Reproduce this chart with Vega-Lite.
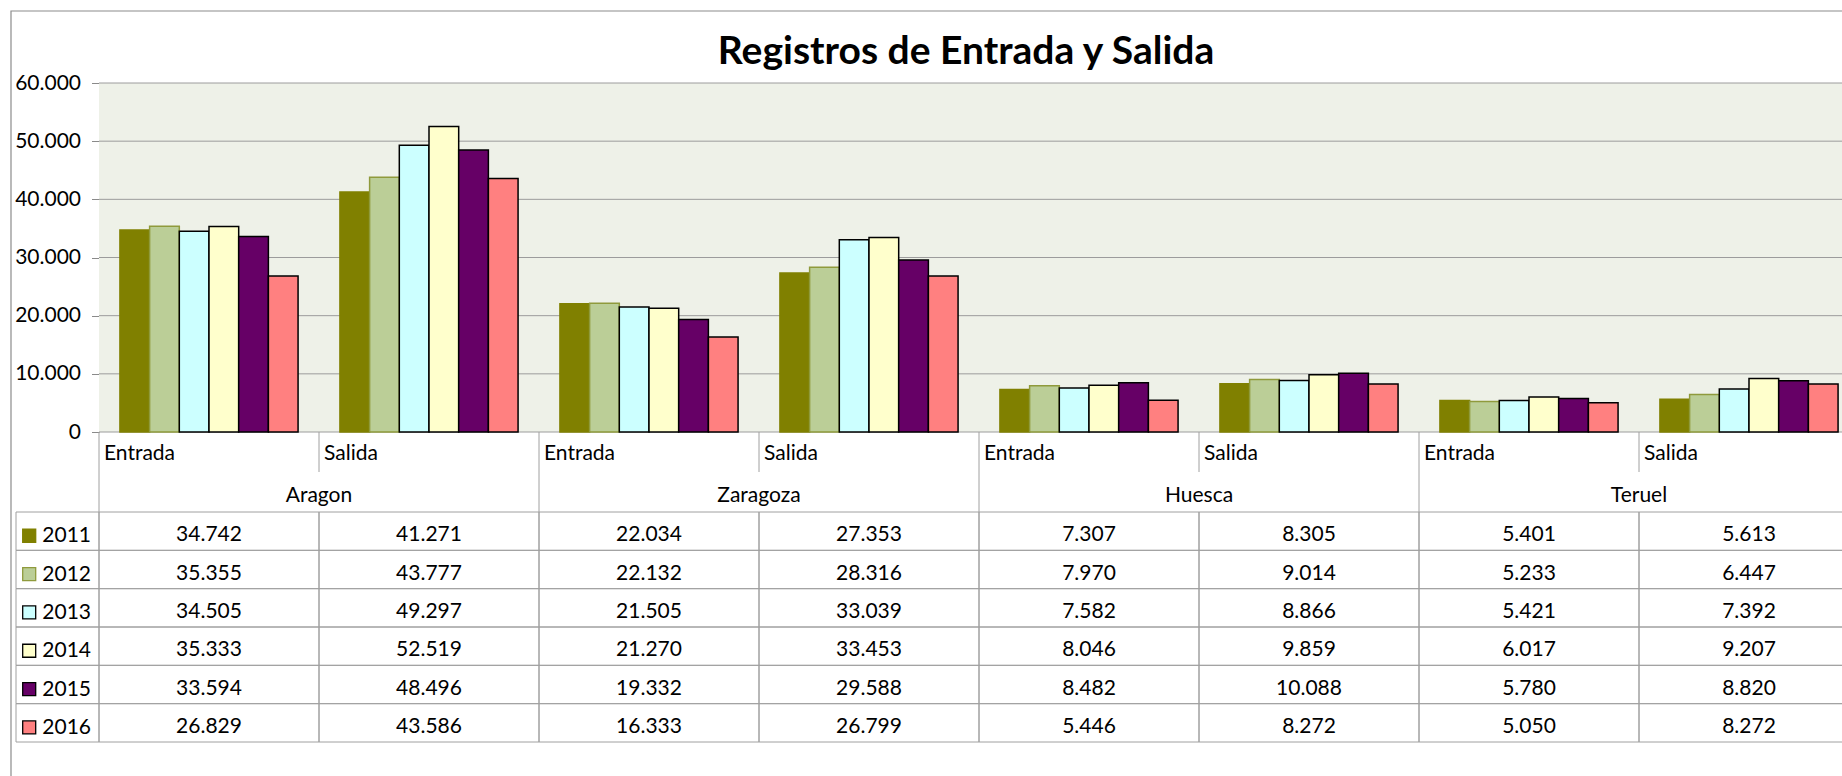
{
  "$schema": "https://vega.github.io/schema/vega-lite/v6.json",
  "width": 1842,
  "height": 776,
  "autosize": {"type": "none"},
  "padding": 0,
  "background": "white",
  "config": {
    "view": {"stroke": null},
    "font": "Lato",
    "text": {"font": "Lato", "color": "#000000"},
    "locale": {"number": {"decimal": ",", "thousands": ".", "grouping": [3], "currency": ["", " €"]}}
  },
  "title": {
    "text": "Registros de Entrada y Salida",
    "font": "Lato",
    "fontSize": 39,
    "fontWeight": "bold",
    "color": "#000000",
    "anchor": "middle",
    "frame": "group",
    "dx": 45,
    "offset": -103,
    "baseline": "alphabetic"
  },
  "datasets": {
    "vals": [
      {"grp": "Aragon", "tipo": "Entrada", "year": "2011", "v": 34742},
      {"grp": "Aragon", "tipo": "Entrada", "year": "2012", "v": 35355},
      {"grp": "Aragon", "tipo": "Entrada", "year": "2013", "v": 34505},
      {"grp": "Aragon", "tipo": "Entrada", "year": "2014", "v": 35333},
      {"grp": "Aragon", "tipo": "Entrada", "year": "2015", "v": 33594},
      {"grp": "Aragon", "tipo": "Entrada", "year": "2016", "v": 26829},
      {"grp": "Aragon", "tipo": "Salida", "year": "2011", "v": 41271},
      {"grp": "Aragon", "tipo": "Salida", "year": "2012", "v": 43777},
      {"grp": "Aragon", "tipo": "Salida", "year": "2013", "v": 49297},
      {"grp": "Aragon", "tipo": "Salida", "year": "2014", "v": 52519},
      {"grp": "Aragon", "tipo": "Salida", "year": "2015", "v": 48496},
      {"grp": "Aragon", "tipo": "Salida", "year": "2016", "v": 43586},
      {"grp": "Zaragoza", "tipo": "Entrada", "year": "2011", "v": 22034},
      {"grp": "Zaragoza", "tipo": "Entrada", "year": "2012", "v": 22132},
      {"grp": "Zaragoza", "tipo": "Entrada", "year": "2013", "v": 21505},
      {"grp": "Zaragoza", "tipo": "Entrada", "year": "2014", "v": 21270},
      {"grp": "Zaragoza", "tipo": "Entrada", "year": "2015", "v": 19332},
      {"grp": "Zaragoza", "tipo": "Entrada", "year": "2016", "v": 16333},
      {"grp": "Zaragoza", "tipo": "Salida", "year": "2011", "v": 27353},
      {"grp": "Zaragoza", "tipo": "Salida", "year": "2012", "v": 28316},
      {"grp": "Zaragoza", "tipo": "Salida", "year": "2013", "v": 33039},
      {"grp": "Zaragoza", "tipo": "Salida", "year": "2014", "v": 33453},
      {"grp": "Zaragoza", "tipo": "Salida", "year": "2015", "v": 29588},
      {"grp": "Zaragoza", "tipo": "Salida", "year": "2016", "v": 26799},
      {"grp": "Huesca", "tipo": "Entrada", "year": "2011", "v": 7307},
      {"grp": "Huesca", "tipo": "Entrada", "year": "2012", "v": 7970},
      {"grp": "Huesca", "tipo": "Entrada", "year": "2013", "v": 7582},
      {"grp": "Huesca", "tipo": "Entrada", "year": "2014", "v": 8046},
      {"grp": "Huesca", "tipo": "Entrada", "year": "2015", "v": 8482},
      {"grp": "Huesca", "tipo": "Entrada", "year": "2016", "v": 5446},
      {"grp": "Huesca", "tipo": "Salida", "year": "2011", "v": 8305},
      {"grp": "Huesca", "tipo": "Salida", "year": "2012", "v": 9014},
      {"grp": "Huesca", "tipo": "Salida", "year": "2013", "v": 8866},
      {"grp": "Huesca", "tipo": "Salida", "year": "2014", "v": 9859},
      {"grp": "Huesca", "tipo": "Salida", "year": "2015", "v": 10088},
      {"grp": "Huesca", "tipo": "Salida", "year": "2016", "v": 8272},
      {"grp": "Teruel", "tipo": "Entrada", "year": "2011", "v": 5401},
      {"grp": "Teruel", "tipo": "Entrada", "year": "2012", "v": 5233},
      {"grp": "Teruel", "tipo": "Entrada", "year": "2013", "v": 5421},
      {"grp": "Teruel", "tipo": "Entrada", "year": "2014", "v": 6017},
      {"grp": "Teruel", "tipo": "Entrada", "year": "2015", "v": 5780},
      {"grp": "Teruel", "tipo": "Entrada", "year": "2016", "v": 5050},
      {"grp": "Teruel", "tipo": "Salida", "year": "2011", "v": 5613},
      {"grp": "Teruel", "tipo": "Salida", "year": "2012", "v": 6447},
      {"grp": "Teruel", "tipo": "Salida", "year": "2013", "v": 7392},
      {"grp": "Teruel", "tipo": "Salida", "year": "2014", "v": 9207},
      {"grp": "Teruel", "tipo": "Salida", "year": "2015", "v": 8820},
      {"grp": "Teruel", "tipo": "Salida", "year": "2016", "v": 8272}
    ],
    "cats": [
      {"grp": "Aragon", "tipo": "Entrada"}, {"grp": "Aragon", "tipo": "Salida"},
      {"grp": "Zaragoza", "tipo": "Entrada"}, {"grp": "Zaragoza", "tipo": "Salida"},
      {"grp": "Huesca", "tipo": "Entrada"}, {"grp": "Huesca", "tipo": "Salida"},
      {"grp": "Teruel", "tipo": "Entrada"}, {"grp": "Teruel", "tipo": "Salida"}
    ],
    "groups": [{"grp": "Aragon"}, {"grp": "Zaragoza"}, {"grp": "Huesca"}, {"grp": "Teruel"}],
    "years": [{"year": "2011"}, {"year": "2012"}, {"year": "2013"}, {"year": "2014"}, {"year": "2015"}, {"year": "2016"}],
    "grid": [{"v": 0}, {"v": 10000}, {"v": 20000}, {"v": 30000}, {"v": 40000}, {"v": 50000}, {"v": 60000}]
  },
  "layer": [
    {
      "data": {"values": [{"area": "chart"}]},
      "mark": {"type": "rect", "filled": false, "stroke": "#8c8c8c", "strokeWidth": 1.2},
      "encoding": {
        "x": {"field": "area", "type": "nominal", "scale": {"range": [11, 1921], "paddingInner": 0, "paddingOuter": 0}, "axis": null},
        "y": {"field": "area", "type": "nominal", "scale": {"range": [11, 800], "paddingInner": 0, "paddingOuter": 0}, "axis": null}
      }
    },
    {
      "layer": [
        {
          "data": {"values": [{"zona": "plot"}]},
          "mark": {"type": "rect", "fill": "#EEF1E8"},
          "encoding": {
            "x": {"datum": "Aragon|Entrada", "type": "nominal", "bandPosition": 0,
                  "scale": {"domain": ["Aragon|Entrada", "Aragon|Salida", "Zaragoza|Entrada", "Zaragoza|Salida", "Huesca|Entrada", "Huesca|Salida", "Teruel|Entrada", "Teruel|Salida"], "range": [99, 1859], "paddingInner": 0, "paddingOuter": 0},
                  "axis": null},
            "x2": {"datum": "Teruel|Salida", "bandPosition": 1},
            "y": {"datum": 60000, "type": "quantitative",
                  "scale": {"domain": [0, 60000], "range": [432, 83], "nice": false, "zero": true},
                  "axis": {"values": [0, 10000, 20000, 30000, 40000, 50000, 60000], "format": ",d", "offset": -99, "grid": false, "tickSize": 7.5, "tickColor": "#8a8a8a", "domainColor": "#8a8a8a", "labelFontSize": 21, "labelFont": "Lato", "labelColor": "#000000", "labelPadding": 11, "title": null}},
            "y2": {"datum": 0}
          }
        },
        {
          "data": {"name": "grid"},
          "mark": {"type": "rule", "stroke": "#9c9c9c", "strokeWidth": 1},
          "encoding": {
            "x": {"datum": "Aragon|Entrada", "type": "nominal", "bandPosition": 0},
            "x2": {"datum": "Teruel|Salida", "bandPosition": 1},
            "y": {"field": "v", "type": "quantitative"}
          }
        },
        {
          "data": {"name": "vals"},
          "transform": [{"calculate": "datum.grp + '|' + datum.tipo", "as": "cat"}],
          "mark": {"type": "bar", "strokeWidth": 1.5},
          "encoding": {
            "x": {"field": "cat", "type": "nominal"},
            "xOffset": {"field": "year", "type": "nominal", "scale": {"paddingInner": 0, "paddingOuter": 0.705}},
            "y": {"field": "v", "type": "quantitative"},
            "fill": {"field": "year", "type": "nominal", "scale": {"domain": ["2011", "2012", "2013", "2014", "2015", "2016"], "range": ["#808000", "#BBCE97", "#CCFFFF", "#FFFFCC", "#660066", "#FF8080"]}, "legend": null},
            "stroke": {"field": "year", "type": "nominal", "scale": {"domain": ["2011", "2012", "2013", "2014", "2015", "2016"], "range": ["#808000", "#8F9A3C", "#000000", "#000000", "#000000", "#000000"]}, "legend": null}
          }
        }
      ]
    },
    {
      "data": {"name": "vals"},
      "transform": [{"calculate": "datum.grp + '|' + datum.tipo", "as": "cat"}],
      "layer": [
        {
          "mark": {"type": "rect", "filled": false, "stroke": "#a0a0a0", "strokeWidth": 1},
          "encoding": {
            "x": {"field": "cat", "type": "nominal",
                  "scale": {"domain": ["Aragon|Entrada", "Aragon|Salida", "Zaragoza|Entrada", "Zaragoza|Salida", "Huesca|Entrada", "Huesca|Salida", "Teruel|Entrada", "Teruel|Salida"], "range": [99, 1859], "paddingInner": 0, "paddingOuter": 0},
                  "axis": null},
            "y": {"field": "year", "type": "nominal", "scale": {"domain": ["2011", "2012", "2013", "2014", "2015", "2016"], "range": [512, 742], "paddingInner": 0, "paddingOuter": 0}, "axis": null}
          }
        },
        {
          "mark": {"type": "text", "fontSize": 21, "baseline": "middle", "align": "center", "dy": 4},
          "encoding": {
            "x": {"field": "cat", "type": "nominal"},
            "y": {"field": "year", "type": "nominal"},
            "text": {"field": "v", "type": "quantitative", "format": ",d"}
          }
        }
      ]
    },
    {
      "data": {"name": "years"},
      "layer": [
        {
          "mark": {"type": "rect", "filled": false, "stroke": "#a0a0a0", "strokeWidth": 1},
          "encoding": {
            "x": {"datum": "leyenda", "type": "nominal", "scale": {"domain": ["leyenda"], "range": [16, 99], "paddingInner": 0, "paddingOuter": 0}, "axis": null},
            "y": {"field": "year", "type": "nominal", "scale": {"domain": ["2011", "2012", "2013", "2014", "2015", "2016"], "range": [512, 742], "paddingInner": 0, "paddingOuter": 0}, "axis": null}
          }
        },
        {
          "mark": {"type": "point", "shape": "square", "filled": true, "size": 169, "strokeWidth": 1.3, "opacity": 1},
          "encoding": {
            "x": {"datum": "leyenda", "type": "nominal", "bandPosition": 0.159},
            "y": {"field": "year", "type": "nominal", "bandPosition": 0.62},
            "fill": {"field": "year", "type": "nominal", "scale": {"domain": ["2011", "2012", "2013", "2014", "2015", "2016"], "range": ["#808000", "#BBCE97", "#CCFFFF", "#FFFFCC", "#660066", "#FF8080"]}, "legend": null},
            "stroke": {"field": "year", "type": "nominal", "scale": {"domain": ["2011", "2012", "2013", "2014", "2015", "2016"], "range": ["#808000", "#8F9A3C", "#000000", "#000000", "#000000", "#000000"]}, "legend": null}
          }
        },
        {
          "mark": {"type": "text", "fontSize": 21, "align": "left", "baseline": "middle", "dy": 5},
          "encoding": {
            "x": {"datum": "leyenda", "type": "nominal", "bandPosition": 0.317},
            "y": {"field": "year", "type": "nominal"},
            "text": {"field": "year", "type": "nominal"}
          }
        }
      ]
    },
    {
      "data": {"name": "groups"},
      "layer": [
        {
          "mark": {"type": "text", "fontSize": 21, "align": "center", "baseline": "middle", "dy": 4},
          "encoding": {
            "x": {"field": "grp", "type": "nominal", "scale": {"domain": ["Aragon", "Zaragoza", "Huesca", "Teruel"], "range": [99, 1859], "paddingInner": 0, "paddingOuter": 0}, "axis": null},
            "y": {"datum": 1.5, "type": "quantitative", "scale": {"domain": [0, 2], "range": [432, 512], "nice": false, "zero": false}, "axis": null},
            "text": {"field": "grp", "type": "nominal"}
          }
        },
        {
          "mark": {"type": "rule", "stroke": "#a0a0a0", "strokeWidth": 1},
          "encoding": {
            "x": {"field": "grp", "type": "nominal", "bandPosition": 0},
            "y": {"datum": 1, "type": "quantitative"},
            "y2": {"datum": 2}
          }
        }
      ]
    },
    {
      "data": {"name": "cats"},
      "transform": [{"calculate": "datum.grp + '|' + datum.tipo", "as": "cat"}],
      "layer": [
        {
          "mark": {"type": "text", "fontSize": 21, "align": "left", "baseline": "middle", "dx": 5, "dy": 2},
          "encoding": {
            "x": {"field": "cat", "type": "nominal", "bandPosition": 0,
                  "scale": {"domain": ["Aragon|Entrada", "Aragon|Salida", "Zaragoza|Entrada", "Zaragoza|Salida", "Huesca|Entrada", "Huesca|Salida", "Teruel|Entrada", "Teruel|Salida"], "range": [99, 1859], "paddingInner": 0, "paddingOuter": 0},
                  "axis": null},
            "y": {"datum": 0.5, "type": "quantitative", "scale": {"domain": [0, 2], "range": [432, 512], "nice": false, "zero": false}, "axis": null},
            "text": {"field": "tipo", "type": "nominal"}
          }
        },
        {
          "mark": {"type": "rule", "stroke": "#a0a0a0", "strokeWidth": 1},
          "encoding": {
            "x": {"field": "cat", "type": "nominal", "bandPosition": 0},
            "y": {"datum": 0, "type": "quantitative"},
            "y2": {"datum": 1}
          }
        }
      ]
    }
  ],
  "resolve": {
    "scale": {"x": "independent", "y": "independent"},
    "axis": {"x": "independent", "y": "independent"}
  }
}
